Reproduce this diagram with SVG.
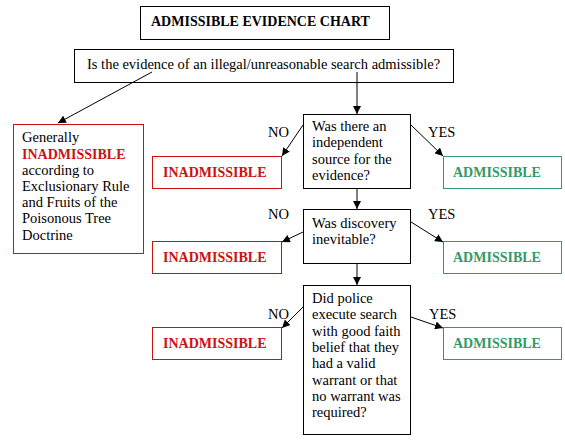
<svg xmlns="http://www.w3.org/2000/svg" width="565" height="440" viewBox="0 0 565 440">
<style>
text{font-family:'Liberation Serif','DejaVu Serif','Times New Roman',Times,serif;font-size:14.5px;fill:#000}
.b{fill:#fff;stroke:#000;stroke-width:1}
.r{fill:#fff;stroke:#cc1111;stroke-width:1}
.g{fill:#fff;stroke:#339966;stroke-width:1}
.rt{font-weight:bold;fill:#cc1111;font-size:14px}
.gt{font-weight:bold;fill:#339966;font-size:14px}
.t{font-weight:bold;font-size:14px}
.c line{stroke:#000;stroke-width:1;marker-end:url(#ah)}
</style>
<defs>
<marker id="ah" viewBox="0 0 10 10" refX="10" refY="5" markerWidth="8" markerHeight="8" markerUnits="userSpaceOnUse" orient="auto">
<path d="M0,0 L10,5 L0,10 z" fill="#000"/>
</marker>
</defs>
<rect width="565" height="440" fill="#fff"/>
<g id="title"><rect class="b" x="140.5" y="6.5" width="249" height="33"/><text class="t" x="151" y="26">ADMISSIBLE EVIDENCE CHART</text></g>
<g id="question"><rect class="b" x="74.5" y="49.5" width="379" height="33"/><text x="87" y="69">Is the evidence of an illegal/unreasonable search admissible?</text></g>
<g id="general"><rect class="r" x="13.5" y="124.5" width="130" height="129"/>
<text x="22" y="142">Generally</text>
<text class="rt" x="22" y="159">INADMISSIBLE</text>
<text x="22" y="175">according to</text>
<text x="22" y="191">Exclusionary Rule</text>
<text x="22" y="207">and Fruits of the</text>
<text x="22" y="223">Poisonous Tree</text>
<text x="22" y="240">Doctrine</text></g>
<g id="q1"><rect class="b" x="303.5" y="114.5" width="107" height="74"/>
<text x="312" y="131">Was there an</text><text x="312" y="147">independent</text><text x="312" y="164">source for the</text><text x="312" y="180">evidence?</text></g>
<g id="q2"><rect class="b" x="303.5" y="209.5" width="107" height="54"/>
<text x="312" y="228">Was discovery</text><text x="312" y="244">inevitable?</text></g>
<g id="q3"><rect class="b" x="303.5" y="285.5" width="107" height="149"/>
<text x="312" y="303">Did police</text><text x="312" y="319">execute search</text><text x="312" y="336">with good faith</text><text x="312" y="352">belief that they</text><text x="312" y="368">had a valid</text><text x="312" y="385">warrant or that</text><text x="312" y="401">no warrant was</text><text x="312" y="417">required?</text></g>
<g id="inad1"><rect class="r" x="152.5" y="156.5" width="129" height="32"/><text class="rt" x="163" y="177">INADMISSIBLE</text></g>
<g id="inad2"><rect class="r" x="152.5" y="241.5" width="129" height="32"/><text class="rt" x="163" y="262">INADMISSIBLE</text></g>
<g id="inad3"><rect class="r" x="152.5" y="327.5" width="129" height="32"/><text class="rt" x="163" y="348">INADMISSIBLE</text></g>
<g id="adm1"><rect class="g" x="443.5" y="156.5" width="118" height="32"/><text class="gt" x="453" y="177">ADMISSIBLE</text></g>
<g id="adm2"><rect class="g" x="443.5" y="241.5" width="118" height="32"/><text class="gt" x="453" y="262">ADMISSIBLE</text></g>
<g id="adm3"><rect class="g" x="443.5" y="327.5" width="118" height="32"/><text class="gt" x="453" y="348">ADMISSIBLE</text></g>
<g id="connectors" class="c">
<line x1="152" y1="72" x2="58" y2="123"/>
<line x1="357" y1="72" x2="357" y2="114"/>
<line x1="357" y1="189" x2="357" y2="209"/>
<line x1="357" y1="264" x2="357" y2="285"/>
<line x1="303" y1="125" x2="282" y2="156"/>
<line x1="411" y1="125" x2="443" y2="156"/>
<line x1="303" y1="232" x2="282" y2="242"/>
<line x1="411" y1="222" x2="443" y2="242"/>
<line x1="303" y1="307" x2="282" y2="328"/>
<line x1="411" y1="317" x2="443" y2="328"/>
</g>
<g id="labels">
<text x="268" y="137">NO</text><text x="428" y="137">YES</text>
<text x="268" y="219">NO</text><text x="428" y="219">YES</text>
<text x="268" y="319">NO</text><text x="429" y="319">YES</text>
</g>
</svg>
